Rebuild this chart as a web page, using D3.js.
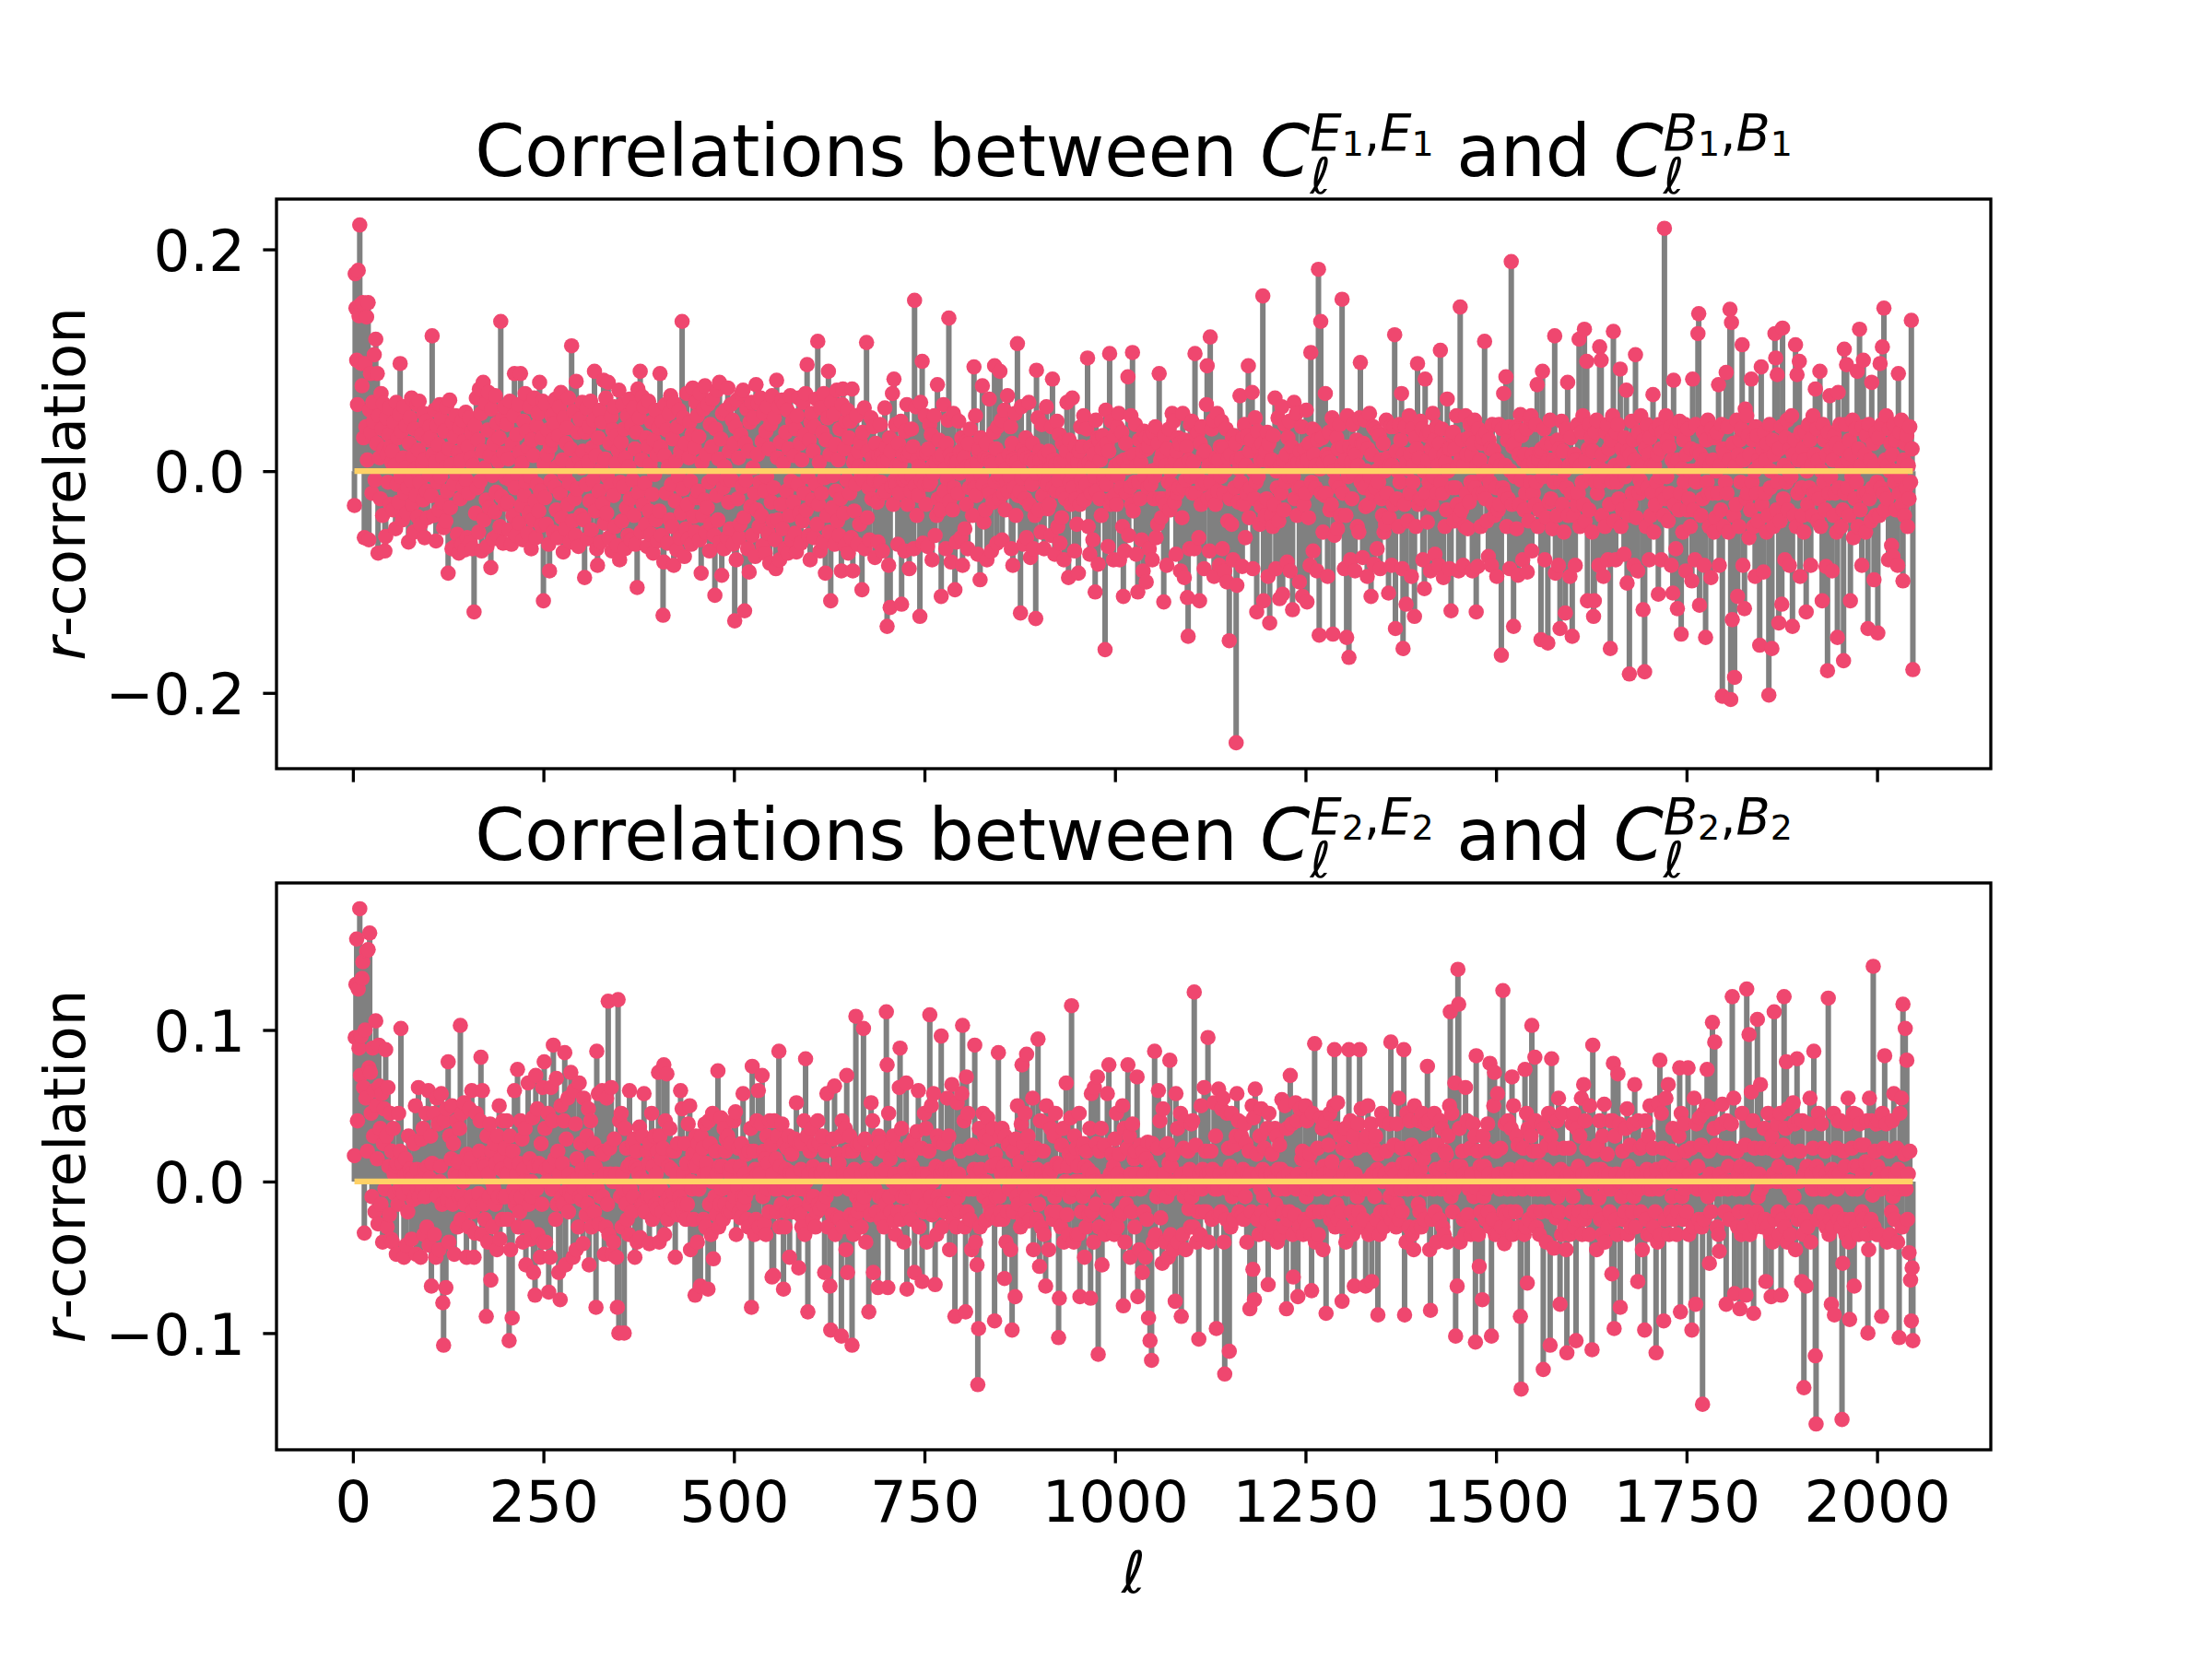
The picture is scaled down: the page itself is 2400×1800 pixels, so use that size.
<!DOCTYPE html>
<html>
<head>
<meta charset="utf-8">
<script src="https://cdn.jsdelivr.net/npm/d3@7"></script>
<style>
  body { margin: 0; background: #ffffff; }
  svg { display: block; }
  text { font-family: "DejaVu Sans", sans-serif; fill: #000; }
</style>
</head>
<body>
<svg id="chart" width="2400" height="1800"></svg>
<script>
// ---------------- DATA (read/estimated from the reference) ----------------
// multipole ell runs from ellStart upward, one value per ell
const ellStart = 2;

// r-correlation between C_l^{E1,E1} and C_l^{B1,B1}, in thousandths (l = 2 ... 2047)
const corrE1B1Milli = [
-31,178,147,100,60,181,140,222,150,97,77,152,30,-60,97,40,139,10,152,-62,55,88,35,-20,62,45,105,-8,119,25,88,-74,50,12,-25,70,38,-40,61,20,-72,-59,48,15,-10,33,57,-30,22,8,
18,-35,44,5,-52,62,-12,30,-28,51,97,-5,36,-44,12,58,-20,3,41,-38,-15,-64,25,48,-8,66,-30,14,-55,38,2,-22,60,-41,19,63,-10,-48,33,7,-26,52,-60,11,45,-18,-42,28,-3,40,
30,-22,122,15,-40,55,8,-63,41,-10,24,-35,60,-5,47,-28,12,-51,36,3,-45,58,-18,-92,20,64,-33,6,-70,44,-12,31,-68,50,-2,-57,17,-74,39,-25,9,-66,46,-14,27,-71,53,-8,-60,22,
-20,48,-64,12,35,-70,5,-127,41,-38,66,-15,28,-55,74,-9,52,-72,18,80,-44,3,61,-26,-68,37,71,-33,14,-87,56,-4,-61,25,-37,68,-19,43,-58,9,30,-50,135,-23,47,-65,16,58,-30,-6,
42,-28,11,-53,63,-8,-66,25,-40,50,88,-15,-58,33,-2,60,-47,17,88,-31,7,-62,45,-22,70,-10,36,-56,21,-38,58,-5,-70,28,-44,14,66,-27,-60,41,-12,52,-36,80,-18,-49,30,63,-117,6,
-24,60,-48,15,37,-66,-90,22,-9,50,28,-55,43,-14,65,-35,4,-60,32,58,-20,71,-42,10,-73,48,-3,-52,25,39,-30,66,-11,-64,20,113,-45,6,54,-25,-58,81,-16,35,-68,12,47,-40,3,62,
18,-44,-96,35,-12,57,-61,8,40,-27,63,-53,21,-8,46,90,-36,14,-70,-85,30,-18,55,-64,2,44,-29,82,-47,11,66,-38,-5,80,-60,25,-13,49,-72,37,-22,58,-50,7,32,-67,19,73,-80,-10,
26,-45,60,-14,38,-70,12,-33,50,-58,4,65,-25,-62,41,-8,57,-40,20,-66,35,-105,74,-19,48,90,-55,10,67,-30,58,-11,-48,30,-68,22,63,-36,6,-57,44,-21,-74,28,-3,55,-44,15,-63,39,
-36,88,22,-58,45,-130,-82,14,60,-20,37,-65,4,52,-44,68,-12,-50,29,-85,61,-27,9,-71,40,-5,55,-60,18,-38,135,-16,48,-77,25,-52,70,-30,-61,12,44,-9,-66,33,75,-41,21,-55,62,-24,
50,-18,31,-62,70,-92,8,-40,56,-26,77,-55,15,-33,60,-10,-72,42,-48,22,65,-6,-58,-112,38,-22,73,-44,11,80,-64,29,-94,52,-15,-70,4,55,-7,-60,75,-28,18,-52,60,-8,46,-66,25,-135,
40,-80,64,-25,12,-60,-48,33,70,-14,73,-42,-126,25,-8,56,-70,18,-91,44,-32,62,-58,3,48,-20,-77,78,-35,15,61,-50,-10,66,-40,27,-67,52,-18,-74,36,-5,58,-56,20,-83,42,-28,68,-45,
-15,48,-62,-88,82,12,-44,58,-80,26,-30,64,-52,7,60,-70,35,-18,55,-74,20,-40,68,-9,-62,45,-28,14,-56,38,-73,50,-12,66,-38,25,-65,10,-45,62,-20,33,70,-35,96,-5,-58,28,-80,44,
52,-26,18,-60,40,-12,65,-48,117,-30,8,-72,57,-20,35,-64,70,-6,-92,28,-40,48,90,-55,15,-117,62,-33,-4,51,-66,24,-18,73,-45,10,-58,38,-25,-90,60,74,-38,20,-67,45,-8,55,-74,30,
-20,45,-60,74,-90,8,-36,12,-12,50,-66,18,4,-48,26,-5,-107,35,-8,57,-70,2,116,-42,18,-15,-62,3,48,-25,12,40,-8,-78,25,5,-28,-64,14,-10,42,-10,15,-72,8,-20,57,-18,22,-140,
10,-85,30,-123,18,-14,70,-30,83,-8,42,-12,5,-66,25,-20,6,45,-120,-8,15,-8,-72,36,-5,60,-30,14,-88,17,-18,38,-5,22,-70,154,-13,58,-40,10,-22,4,-131,62,-8,99,-65,16,-12,50,
-30,16,-68,20,-12,42,-10,33,-80,5,-2,50,-58,8,-40,78,-25,28,12,-35,-113,15,-22,60,-18,2,-70,25,-7,46,138,-27,15,-82,10,-35,52,-15,-107,8,-64,8,-20,45,-2,18,-60,30,-85,18,
12,-52,26,-30,4,-70,25,-15,38,-2,5,-40,-8,94,-15,50,-22,8,-75,18,20,-98,30,-4,77,-12,-46,12,-35,25,-80,10,-18,65,-20,8,-72,6,-28,35,95,-10,20,-65,40,-5,-25,90,-3,46,
-62,10,-20,55,-35,2,-10,68,-18,15,-5,40,-70,25,-85,10,-15,52,-40,8,115,-22,3,-18,-128,58,-6,20,-66,15,-25,30,-60,12,-4,62,-30,-78,10,-12,25,-70,8,-40,-133,91,-2,48,-35,18,
10,-55,42,-22,0,-70,15,-10,58,-12,-34,18,-30,2,-58,40,83,-15,10,-75,6,-18,45,-50,-8,33,-65,8,-42,25,-20,-80,10,-25,18,62,-5,-96,28,-10,-30,0,66,-15,12,-72,22,-25,-48,8,
-92,18,-30,40,-8,22,-15,50,-26,5,-12,38,102,-50,8,-75,22,-20,4,-62,15,-5,-109,46,-18,30,-84,28,-25,10,-40,20,32,-8,-5,-161,55,-12,25,-68,18,106,-30,45,-25,-2,-80,32,-22,5,
-30,40,-5,52,-80,8,-15,35,-50,-113,10,-72,25,-20,3,85,-58,12,-14,50,-30,107,-36,15,-10,42,-75,5,-109,-10,28,-25,8,-62,18,-90,36,-5,30,-100,20,-15,22,-70,30,-12,0,-80,35,-25,
-5,40,-60,2,-48,25,88,-25,10,-42,15,-25,-118,32,-30,5,-85,20,-10,38,-35,0,-12,52,-20,45,-28,10,-75,18,-20,30,-15,25,-90,5,-42,52,-15,-96,28,-8,22,-114,-149,10,-70,42,-5,45,
-20,8,-70,106,-20,32,-5,35,-60,-117,25,-30,40,-12,15,-88,18,-10,60,95,-25,5,-72,121,-10,38,-22,46,-95,0,-30,12,52,-18,10,-85,22,-5,45,-70,22,-20,-90,0,38,-100,-45,12,-153,-25,
15,-48,30,-80,32,-15,25,-245,-103,10,-28,2,68,-10,12,-86,30,-30,42,-60,5,-20,32,95,-42,18,-15,28,71,-88,0,-25,48,-10,-127,36,-5,20,-48,10,-32,25,158,-117,10,-40,18,-25,35,-95,
25,-137,8,-40,10,-50,32,-30,66,-88,0,-15,48,-45,-115,5,-20,58,-111,10,-35,42,-10,15,-82,30,-5,45,-90,2,22,-125,-5,62,-25,10,52,-40,8,-15,-100,18,-15,40,-113,8,-30,20,-20,55,
-118,10,-42,25,-85,107,-10,38,-72,15,36,-15,5,-90,28,182,-148,2,135,-20,30,-55,8,-22,70,-20,15,-95,12,35,-35,8,-30,48,-147,0,-58,42,-10,30,-52,20,-15,42,-40,5,155,-20,22,-88,
10,-40,-150,50,-5,-168,22,-80,8,-25,42,-2,18,-90,15,28,-50,5,-55,48,98,-10,25,-78,25,-15,46,-32,0,-95,20,-30,52,-5,-113,15,-20,40,-84,38,-15,0,-70,35,-10,32,-88,10,-25,-40,
25,-55,0,-48,46,-20,12,-110,-42,5,40,-85,5,-30,40,123,-142,18,-25,0,-50,42,-10,28,70,-88,-160,15,-30,40,-120,8,-45,2,50,-20,15,-95,38,-10,5,-131,30,-50,20,97,-30,12,-25,45,
-25,38,-80,0,-106,83,-20,32,-46,10,-10,35,-90,20,-30,52,-5,28,-75,15,40,-20,5,-85,25,109,-10,38,-20,-96,15,-50,8,-35,65,0,20,-88,20,-126,32,-15,35,-45,20,-15,50,-30,5,-90,
-40,148,10,-35,28,-85,5,-50,50,-20,15,-52,30,-28,42,-10,15,-90,25,-10,46,-15,-127,5,-86,38,-20,10,-50,25,30,-20,-3,117,-25,35,-45,0,-77,28,-10,20,-85,42,-30,19,-40,8,-15,-95,
10,-35,42,-30,5,-166,38,-15,70,-20,5,85,-50,28,-25,40,-88,0,189,-30,22,-140,25,-5,40,-52,36,-94,15,-30,51,-8,32,-80,10,-35,15,-20,38,-91,5,-45,48,-10,50,-72,15,-20,8,-30,
42,-10,78,-50,10,-35,18,-152,20,90,-5,38,-80,5,-42,25,-155,10,-28,46,-25,25,-52,10,-10,122,-92,5,-40,28,-85,20,-142,-10,45,-30,18,-55,0,-128,38,-15,80,-40,5,-95,30,-20,-149,10,
-40,15,-85,10,-30,42,-20,119,-50,5,35,-10,50,-30,128,-45,10,99,-117,20,-35,42,-5,30,-55,18,-131,-117,35,-10,46,-20,5,-85,112,-10,100,-40,15,-95,0,-50,35,-5,42,-80,20,-30,-160,28,
-10,50,126,-45,5,-80,35,-10,42,-25,0,92,-50,20,-35,10,-75,30,-5,73,-101,18,-40,-183,15,-30,45,-20,28,-85,10,105,-42,0,-90,35,-20,-8,50,-15,5,-125,28,-181,20,-50,42,-15,15,-80,
30,-40,5,-20,69,-55,5,-30,38,-10,15,-111,42,-5,20,-80,35,-20,-40,219,-25,50,-5,28,-45,22,-20,40,-85,10,-110,82,-30,5,-70,38,-124,10,-35,45,-20,-147,2,-55,28,-10,42,-90,15,-35,
38,-25,0,-50,20,-99,83,-35,0,-80,42,-10,18,124,142,-121,15,-40,5,-25,35,-85,10,-150,28,-10,46,-20,-50,5,-96,38,-20,10,-55,30,-42,0,35,-20,78,-85,5,-35,42,-203,20,-50,15,-10,
89,-20,40,-55,10,146,-206,134,-134,25,-40,-186,5,-30,46,-113,15,-50,28,-10,38,114,-85,10,-124,56,-25,50,-20,32,-60,15,-35,83,-10,28,-50,0,-95,40,-20,32,-45,10,-157,5,94,-30,20,-91,
35,-20,10,-55,25,-40,-202,42,-15,0,-160,28,-50,15,124,102,-35,87,-10,-137,20,-45,40,-120,129,-25,5,-80,30,-10,46,-35,0,-85,20,-5,50,-140,15,-40,28,114,-50,87,-20,10,99,-95,35,-15,
-40,20,-55,10,35,-127,0,-30,42,-15,28,-85,5,-40,50,-20,15,74,-20,38,-45,10,-25,90,-50,0,-117,42,-10,28,-35,-86,15,-180,35,-20,68,-5,20,-90,10,-40,32,-20,25,-55,-150,71,-15,42,
20,-50,5,-35,-171,110,-20,42,96,-15,10,-40,28,-117,15,-5,46,-60,0,-25,38,-10,90,-50,20,128,-35,5,-85,40,100,-20,15,-55,32,-20,-142,42,-25,10,-45,80,-15,25,-98,5,-40,35,-10,-146,
30,-40,97,-15,42,112,-20,147,-35,10,50,-25,5,-80,38,0,25,-67,15,-77,42,-10,28,-35,0,-85,88,-20,35,-5,46,-30,-99,10,-40,25,-15,32,-50,5,-25,40,-10,136,20,-179
];

// r-correlation between C_l^{E2,E2} and C_l^{B2,B2}, in thousandths (l = 2 ... 2047)
const corrE2B2Milli = [
17,95,130,160,40,127,88,180,70,96,134,145,62,-34,100,55,152,20,153,75,164,72,45,-10,88,30,60,-20,106,50,15,-28,90,63,35,-15,58,-40,25,48,-5,87,30,-30,62,10,-22,45,-38,20,
-40,35,5,-8,10,-48,12,-15,45,-5,20,101,-3,12,-8,-50,4,15,-42,5,-20,30,-5,8,5,-38,2,-12,25,-10,50,-48,8,-5,62,-10,0,-50,28,-5,35,-35,8,-10,45,-30,10,60,-42,2,
30,-69,12,-5,45,-35,-2,-50,55,-10,38,-45,0,10,58,-15,-80,-108,40,-5,-70,48,-12,79,-40,30,-6,15,50,-15,25,-48,5,2,40,-30,13,-10,35,103,-25,45,-10,0,52,-15,5,-50,18,10,
-30,48,15,-10,60,-20,5,-50,-34,5,45,-15,8,-8,20,40,82,-35,60,-15,12,-25,10,-89,30,-40,5,-10,38,-65,20,-30,-2,-5,25,-15,12,-45,30,-10,50,-38,15,8,-25,40,-10,22,-10,5,
40,-25,5,-105,30,-45,13,-90,20,-5,60,-15,-10,5,74,-30,12,-20,40,-10,28,-40,8,0,35,-55,-5,-30,65,-15,15,-38,0,-10,42,-60,10,-75,70,-5,48,-35,12,10,-50,25,-15,62,-40,79,
35,-40,8,0,45,-73,10,-50,62,-5,40,90,-5,15,-25,68,-15,20,-60,5,-78,50,-10,12,-15,40,85,-55,28,-6,55,-20,5,-8,72,-10,0,-50,60,-5,38,-45,15,2,-30,65,-10,25,-12,8,
-41,55,-5,4,-22,30,-15,48,-55,0,40,-30,12,-5,25,-20,10,-83,86,-5,58,-28,2,-10,20,60,-10,18,-48,5,-30,55,-15,119,-35,22,5,62,-48,0,-40,28,0,5,-50,-83,120,-100,40,-10,
45,-30,5,-5,-100,35,-15,22,-25,10,-35,60,-5,12,-20,25,-10,28,-50,10,20,-40,8,5,36,-37,2,-15,30,-15,58,-20,0,-5,20,-10,12,-41,25,-10,45,-25,10,0,30,-15,5,-18,20,72,
-40,30,-5,15,-20,22,77,-35,40,-13,71,-25,10,-10,35,-15,8,-18,20,-8,20,-50,0,5,25,-22,-5,-10,60,-15,48,-20,5,-15,25,-25,12,-15,38,0,50,-45,0,-5,18,-25,10,-75,30,10,
-40,25,-5,15,-69,30,0,22,-25,5,38,-30,12,5,-71,40,-15,25,-35,0,45,-51,0,-10,20,-22,5,73,-30,10,-15,42,-5,10,-25,35,-15,20,28,-4,30,-20,8,5,25,-20,10,-15,40,-10,
46,-35,0,-4,22,-20,10,-24,25,-10,58,-15,5,-10,18,-25,0,-30,20,-5,35,-83,76,0,20,-35,8,-25,40,5,60,-30,5,-5,38,70,-10,20,-28,15,-35,30,-5,12,-20,40,0,24,-63,5,
-62,40,-5,15,-20,30,-5,86,-30,10,-15,38,0,-71,25,-30,8,-20,22,-5,30,-50,6,5,18,-20,5,-15,28,-15,52,-20,-5,-57,25,-22,8,-30,25,-5,40,-35,81,0,30,-86,5,-15,20,-10,
35,-25,10,-10,24,-30,5,-20,40,-15,25,-18,5,5,30,-15,8,-60,20,-10,58,-30,2,-5,-69,-98,5,-22,28,0,63,-35,5,-5,18,-24,12,-25,30,-102,40,-30,5,0,35,-45,70,-60,20,-5,
30,-22,5,-108,20,-35,8,-25,109,-10,24,-20,-5,-15,25,-30,5,-15,101,-10,28,-40,8,0,18,-86,0,-22,52,-5,40,-60,5,-5,22,-20,5,-70,30,-10,26,-25,5,-10,20,-30,8,-15,112,77,
-70,45,-10,15,-20,24,0,30,-26,5,-35,22,-5,0,-20,62,88,-25,35,-10,20,-40,8,-10,65,-71,0,-20,24,-5,18,-25,10,-5,28,-60,5,-15,33,-10,60,-30,5,0,22,-66,5,-20,45,-15,
35,-40,5,-5,20,110,-10,50,-22,0,58,-20,-68,10,-35,30,-10,26,-15,5,96,-30,8,-15,25,-20,8,-20,55,-5,30,-45,10,5,64,-24,0,-15,-89,5,-30,52,-10,5,-20,20,-5,58,103,-5,
40,-30,-86,69,-20,45,-5,22,-25,0,-45,24,-5,8,90,-40,5,-55,-134,-97,35,-30,8,0,22,45,-10,30,-26,0,-25,42,-5,-15,28,-20,10,-22,35,-5,-92,18,-10,12,-25,85,-10,30,-20,5,
35,-25,10,-64,30,-40,5,-20,24,-5,25,-45,0,-98,20,-20,5,-76,28,-10,50,-15,2,13,-30,38,77,-24,25,-5,45,-20,84,-10,30,-26,8,-25,18,0,55,-45,0,-5,22,-25,8,94,-15,-56,
40,-30,5,0,20,-35,0,-69,50,-5,38,-45,8,5,35,-20,8,-25,30,-10,45,-20,12,-5,-103,-77,10,-30,24,-5,35,-40,-2,0,65,-22,10,-35,18,-10,42,116,-5,15,-40,30,0,22,-35,10,
-35,45,-76,0,-20,22,-10,25,-50,10,-30,20,-5,8,-22,35,-77,58,-20,5,-40,62,0,-15,25,69,-114,-30,20,0,35,-55,0,-5,24,-35,0,-20,58,-10,77,-30,5,0,18,-25,10,-35,28,-5,
45,-30,5,-5,18,-22,0,-20,50,-82,35,-40,-5,-15,22,77,-5,30,-50,5,-20,38,-5,15,-30,20,5,69,-76,0,-45,24,-5,0,-60,20,-20,5,-50,15,-25,26,-90,0,-105,10,-118,25,-40,5,
86,-35,5,-10,22,60,-5,40,-24,0,-54,48,0,5,-40,24,-10,25,-50,12,80,-35,10,-5,18,-45,0,-79,58,0,35,-40,2,0,45,-89,5,-35,22,-10,40,-45,0,-5,20,-18,8,-30,38,-10,
40,-30,125,-5,24,-40,0,-20,-104,5,-35,50,-5,8,-20,62,0,20,-20,5,95,-40,5,0,20,-25,8,-24,52,-5,30,-97,0,-5,61,-22,5,-20,48,0,55,-40,-127,0,-25,45,-5,22,-112,10,
-30,45,-10,5,-25,24,-5,30,58,-5,40,-20,2,-5,30,-22,8,-25,38,-10,25,-40,5,0,20,-84,5,-20,50,-58,42,-78,61,0,18,-25,5,-35,30,-5,48,-20,8,-10,22,-30,5,-25,35,-68,
45,-35,5,5,18,-30,0,-20,35,-15,30,-40,8,-5,24,-35,8,54,-20,2,-30,50,-5,-84,35,-25,5,-20,70,0,38,-35,-63,0,-22,52,-5,40,-76,5,-30,48,0,15,20,-35,0,-25,50,-10,
40,-30,10,-5,18,-35,-72,45,-20,5,91,-40,0,-5,22,-35,5,-20,42,0,35,-45,10,5,40,-87,0,-20,24,-5,45,-25,8,13,-20,50,87,-30,35,-15,52,-25,0,-5,30,-20,-79,22,-30,5,
35,-40,10,-5,20,87,0,40,-20,5,-35,30,-69,5,-25,22,-10,38,-20,87,-30,48,-5,0,-25,24,-5,-69,30,0,50,-35,2,-5,38,-66,5,-30,22,-10,30,-25,8,-88,18,-35,5,-20,45,0,
40,-30,5,5,20,-20,0,-20,38,-10,92,-25,8,-5,24,-20,5,-30,38,-15,55,-25,0,-5,22,-20,12,87,-88,5,-40,45,-5,12,-30,40,0,24,-35,0,-45,50,-5,8,-30,20,-15,40,-20,8,
-30,45,0,15,-25,38,-5,22,76,0,40,-45,-85,0,-25,24,-5,45,-20,8,-40,24,0,8,-25,40,-5,35,-30,10,-35,20,0,18,-40,30,-5,50,112,-10,45,-20,5,-5,65,-102,10,-69,140,117,
35,-40,10,0,20,-25,5,-35,62,0,40,-22,0,-5,22,-35,5,-30,38,-10,30,-106,83,-5,20,-35,-56,10,-20,5,-78,30,-10,10,-25,22,-5,38,-20,5,78,-30,-102,0,-25,50,72,-35,20,0,
58,-35,5,-5,22,-30,0,126,-20,-41,38,-22,5,-5,40,-30,8,-20,35,69,-35,50,-5,0,-20,30,0,24,-30,5,-89,-137,10,-5,22,-35,74,-30,45,-67,35,-25,8,0,30,103,-5,20,-20,82,
40,-30,5,-5,20,-35,10,-20,38,-5,-124,35,-5,8,-40,24,0,45,-20,-108,30,81,-5,5,-44,22,0,-24,40,-10,55,-20,-81,8,-35,45,-5,22,-30,0,-45,-113,5,-5,22,-35,5,-20,38,-10,
45,-30,0,-105,35,-25,10,-20,30,0,55,-35,5,64,-25,40,0,22,-20,5,-35,50,-5,0,-111,90,0,20,-20,8,-45,24,0,-11,40,-25,8,-35,30,0,51,-40,5,-5,18,-30,5,-20,40,-5,
-61,40,78,-97,30,-25,5,-35,71,0,38,-83,0,-10,20,-25,5,-20,35,0,48,-35,10,-5,24,-30,5,-20,38,-10,64,-30,5,5,-66,40,-5,22,-20,5,-45,24,0,-98,40,-25,8,-35,30,-5,
50,-35,5,-5,22,-30,0,-20,-113,8,-40,52,-5,80,-35,45,0,22,-92,10,-25,55,0,8,64,-35,5,-20,20,-10,35,-25,8,0,18,-35,5,-20,30,75,-86,45,-10,10,-25,38,-5,20,-20,0,
75,-35,5,5,22,-98,0,-30,55,0,-81,38,-5,10,-25,42,-5,24,-30,-147,45,-25,0,-5,50,74,-10,20,-54,5,-20,48,105,0,35,92,-5,24,-30,0,-35,-46,5,-5,38,51,0,22,-20,0,
-81,40,-5,10,-25,22,0,38,122,0,55,-74,0,-5,20,-30,5,-20,-84,10,-35,45,-5,0,-30,24,-75,127,-20,8,97,-35,5,59,-25,40,-87,22,-30,5,-20,107,-10,5,-25,64,-5,22,-30,0,
35,-25,-66,0,-30,45,0,22,-35,-76,30,-40,5,112,-25,20,0,38,-20,10,-35,45,-75,0,-25,24,122,-30,35,79,-40,48,6,-5,20,-35,0,-20,52,-10,38,-45,0,81,-25,40,0,20,-20,-66,
40,-35,-136,5,-25,-69,10,-30,38,0,55,-40,5,-5,22,86,-5,-115,-160,10,-25,45,0,6,-20,38,-5,22,-22,-5,20,-30,5,0,121,-35,0,-25,-81,8,-30,45,-88,5,-20,22,-5,40,-25,5,
40,-30,-157,-54,20,-25,10,-35,38,0,55,-40,-91,0,-25,22,-5,45,-69,10,-30,44,-5,10,-35,38,0,24,-20,5,-25,24,0,13,-35,40,-100,-45,55,11,-25,40,-9,142,-30,20,0,38,-35,10,
40,-35,5,-5,-89,45,0,22,83,0,38,-40,5,5,20,-35,0,-20,40,-10,58,-25,5,-5,22,-40,8,-103,45,-5,55,-30,117,0,18,101,-5,80,-25,5,-47,20,-65,-92,-57,-105
];

// axis tick values
const xTickValues = [0, 250, 500, 750, 1000, 1250, 1500, 1750, 2000];
const yTicksTop = [-0.2, 0.0, 0.2];
const yTicksBottom = [-0.1, 0.0, 0.1];

// title pieces (mathtext-like): C_ell^{X_n,X_n}
function titlePieces(a, b, n) {
  const sup = (L) => [
    {t: L, s: 0.7, dy: -0.36, it: true},
    {t: n, s: 0.49, dy: -0.29},
    {t: ",", s: 0.7, dy: -0.36},
    {t: L, s: 0.7, dy: -0.36, it: true},
    {t: n, s: 0.49, dy: -0.29}
  ];
  return [
    {t: "Correlations between\u00A0", s: 1, dy: 0},
    {t: "C", s: 1, dy: 0, it: true},
    {sub: [{t: "\u2113", s: 0.7, dy: 0.24, it: true}], sup: sup(a)},
    {t: "\u00A0and\u00A0", s: 1, dy: 0},
    {t: "C", s: 1, dy: 0, it: true},
    {sub: [{t: "\u2113", s: 0.7, dy: 0.24, it: true}], sup: sup(b)}
  ];
}

// ---------------- LAYOUT ----------------
const svg = d3.select("#chart");
svg.append("rect").attr("width", 2400).attr("height", 1800).attr("fill", "#fff");

const axLeft = 300, axRight = 2160;
const tickFont = 62.5, titleFont = 77.5, labelFont = 62.5;
const spineW = 3.33, tickLen = 14.6;
const stemColor = "#808080", markerColor = "#EF476F", baseColor = "#FFD166";

const panels = [
  {top: 216, bottom: 834, milli: corrE1B1Milli, yTicks: yTicksTop, title: titlePieces("E", "B", "1"), xLabels: false},
  {top: 958, bottom: 1573, milli: corrE2B2Milli, yTicks: yTicksBottom, title: titlePieces("E", "B", "2"), xLabels: true}
];

// shared x scale (matplotlib-like 5% margins)
const allLen = Math.max(corrE1B1Milli.length, corrE2B2Milli.length);
const ellMin = ellStart, ellMax = ellStart + allLen - 1;
const xPad = (ellMax - ellMin) * 0.05;
const x = d3.scaleLinear().domain([ellMin - xPad, ellMax + xPad]).range([axLeft, axRight]);

// builds one <text> element with positioned tspans (sub/superscripts stacked)
function mathText(parent, parts, F, cx, baseY) {
  const meas = parent.append("text");
  function width(item) {
    meas.attr("font-size", item.s * F).attr("font-style", item.it ? "italic" : "normal").text(item.t);
    return meas.node().getComputedTextLength();
  }
  const placed = [];
  let cur = 0;
  const put = (item, x0) => { placed.push({item, x0}); return x0 + width(item); };
  for (const p of parts) {
    if (p.sub) {
      let xs = cur; for (const q of p.sub) xs = put(q, xs);
      let xp = cur; for (const q of p.sup) xp = put(q, xp);
      cur = Math.max(xs, xp);
    } else {
      cur = put(p, cur);
    }
  }
  meas.remove();
  const x0 = cx - cur / 2;
  const t = parent.append("text");
  placed.forEach(({item, x0: px}) => {
    t.append("tspan")
      .attr("x", x0 + px).attr("y", baseY + (item.dy || 0) * F)
      .attr("font-size", item.s * F)
      .attr("font-style", item.it ? "italic" : "normal")
      .text(item.t);
  });
  return t;
}

panels.forEach((P) => {
  const values = P.milli.map(v => v / 1000);
  const data = values.map((v, i) => ({ell: ellStart + i, v}));
  const ext = d3.extent(values);
  const yPad = (ext[1] - ext[0]) * 0.05;
  const y = d3.scaleLinear().domain([ext[0] - yPad, ext[1] + yPad]).range([P.bottom, P.top]);

  const g = svg.append("g");

  // stems
  g.append("g").selectAll("line").data(data).join("line")
    .attr("x1", d => x(d.ell)).attr("x2", d => x(d.ell))
    .attr("y1", y(0)).attr("y2", d => y(d.v))
    .attr("stroke", stemColor).attr("stroke-width", 6);

  // markers
  g.append("g").selectAll("circle").data(data).join("circle")
    .attr("cx", d => x(d.ell)).attr("cy", d => y(d.v)).attr("r", 8.3)
    .attr("fill", markerColor);

  // baseline
  g.append("line")
    .attr("x1", x(d3.min(data, d => d.ell))).attr("x2", x(d3.max(data, d => d.ell)))
    .attr("y1", y(0)).attr("y2", y(0))
    .attr("stroke", baseColor).attr("stroke-width", 6.25);

  // frame
  g.append("rect")
    .attr("x", axLeft).attr("y", P.top)
    .attr("width", axRight - axLeft).attr("height", P.bottom - P.top)
    .attr("fill", "none").attr("stroke", "#000").attr("stroke-width", spineW);

  // y axis
  const yAxis = d3.axisLeft(y).tickValues(P.yTicks).tickSize(tickLen).tickSizeOuter(0)
    .tickPadding(19.4).tickFormat(d => d3.format(".1f")(d).replace("-", "\u2212"));
  const ya = g.append("g").attr("transform", `translate(${axLeft},0)`).call(yAxis);
  ya.select(".domain").remove();
  ya.selectAll(".tick line").attr("stroke", "#000").attr("stroke-width", spineW);
  ya.selectAll(".tick text").attr("font-size", tickFont).attr("font-family", "DejaVu Sans")
    .attr("dy", "0.365em").attr("fill", "#000");

  // x axis
  const xAxis = d3.axisBottom(x).tickValues(xTickValues).tickSize(tickLen).tickSizeOuter(0)
    .tickFormat(P.xLabels ? d3.format("d") : () => "");
  const xa = g.append("g").attr("transform", `translate(0,${P.bottom})`).call(xAxis);
  xa.select(".domain").remove();
  xa.selectAll(".tick line").attr("stroke", "#000").attr("stroke-width", spineW);
  xa.selectAll(".tick text").attr("font-size", tickFont).attr("font-family", "DejaVu Sans")
    .attr("y", 78).attr("dy", 0).attr("fill", "#000");
  if (!P.xLabels) xa.selectAll(".tick text").remove();

  // y label
  const yl = svg.append("text")
    .attr("transform", `translate(92,${(P.top + P.bottom) / 2}) rotate(-90)`)
    .attr("text-anchor", "middle").attr("font-size", labelFont);
  yl.append("tspan").attr("font-style", "italic").text("r");
  yl.append("tspan").text("-correlation");

  // title
  mathText(svg, P.title, titleFont, (axLeft + axRight) / 2, P.top - 25);
});

// x label
svg.append("text").attr("x", (axLeft + axRight) / 2).attr("y", 1728)
  .attr("text-anchor", "middle").attr("font-size", labelFont).attr("font-style", "italic")
  .text("\u2113");
</script>
</body>
</html>
